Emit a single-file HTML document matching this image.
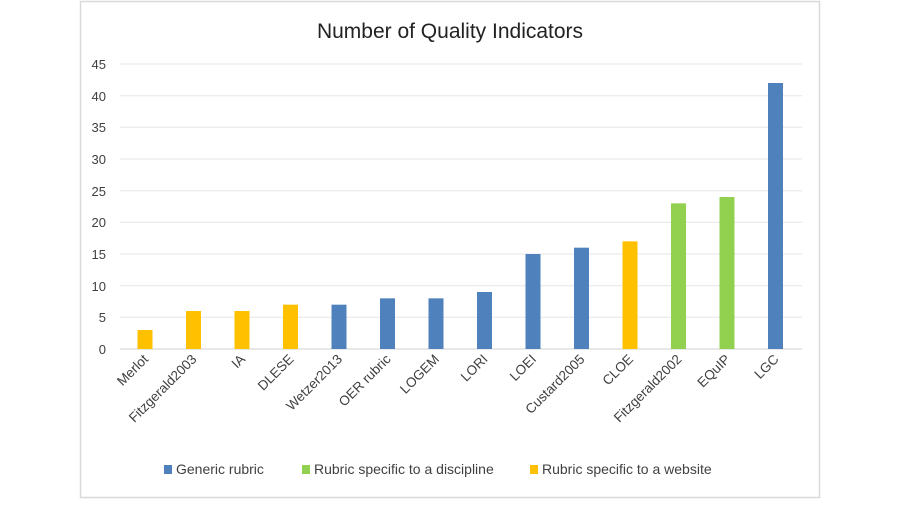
<!DOCTYPE html>
<html><head><meta charset="utf-8"><style>
body{margin:0;background:#fff;}
svg text{font-family:"Liberation Sans",sans-serif;fill:#404040;}
</style></head><body>
<svg width="900" height="500" xmlns="http://www.w3.org/2000/svg">
<rect x="80.5" y="1.5" width="739" height="496" fill="#fff" stroke="#d9d9d9" stroke-width="1.5"/>
<text x="450" y="38" text-anchor="middle" font-size="21" style="fill:#222">Number of Quality Indicators</text>
<g stroke="#e6e6e6" stroke-width="1">
<line x1="120" x2="802" y1="64" y2="64"/><line x1="120" x2="802" y1="95.7" y2="95.7"/>
<line x1="120" x2="802" y1="127.3" y2="127.3"/><line x1="120" x2="802" y1="159" y2="159"/>
<line x1="120" x2="802" y1="190.7" y2="190.7"/><line x1="120" x2="802" y1="222.3" y2="222.3"/>
<line x1="120" x2="802" y1="254" y2="254"/><line x1="120" x2="802" y1="285.7" y2="285.7"/>
<line x1="120" x2="802" y1="317.3" y2="317.3"/>
</g>
<line x1="120" x2="802" y1="349" y2="349" stroke="#d0d0d0"/>
<g font-size="13" text-anchor="end">
<text x="106" y="354">0</text><text x="106" y="322">5</text><text x="106" y="291">10</text>
<text x="106" y="259">15</text><text x="106" y="227">20</text><text x="106" y="196">25</text>
<text x="106" y="164">30</text><text x="106" y="132">35</text><text x="106" y="101">40</text>
<text x="106" y="69">45</text>
</g>
<g id="bars"></g>
<g id="labs" font-size="13.5" text-anchor="end"></g>
<rect x="164" y="465" width="8" height="9" fill="#4f81bd"/>
<text x="176" y="474" font-size="14">Generic rubric</text>
<rect x="302" y="465" width="8" height="9" fill="#92d050"/>
<text x="314" y="474" font-size="14">Rubric specific to a discipline</text>
<rect x="530" y="465" width="8" height="9" fill="#ffc000"/>
<text x="542" y="474" font-size="14">Rubric specific to a website</text>
<script>
var d=[["Merlot",3,"y"],["Fitzgerald2003",6,"y"],["IA",6,"y"],["DLESE",7,"y"],["Wetzer2013",7,"b"],["OER rubric",8,"b"],["LOGEM",8,"b"],["LORI",9,"b"],["LOEI",15,"b"],["Custard2005",16,"b"],["CLOE",17,"y"],["Fitzgerald2002",23,"g"],["EQuIP",24,"g"],["LGC",42,"b"]];
var c={y:"#ffc000",b:"#4f81bd",g:"#92d050"};
var b=document.getElementById("bars"),l=document.getElementById("labs"),ns="http://www.w3.org/2000/svg";
d.forEach(function(e,i){var cx=145+i*48.5,h=e[1]*6.333;
var r=document.createElementNS(ns,"rect");r.setAttribute("x",cx-7.5);r.setAttribute("y",349-h);r.setAttribute("width",15);r.setAttribute("height",h);r.setAttribute("fill",c[e[2]]);b.appendChild(r);
var t=document.createElementNS(ns,"text");t.setAttribute("transform","translate("+(cx+4)+",360) rotate(-45)");t.textContent=e[0];l.appendChild(t);});
</script>
</svg>
</body></html>
